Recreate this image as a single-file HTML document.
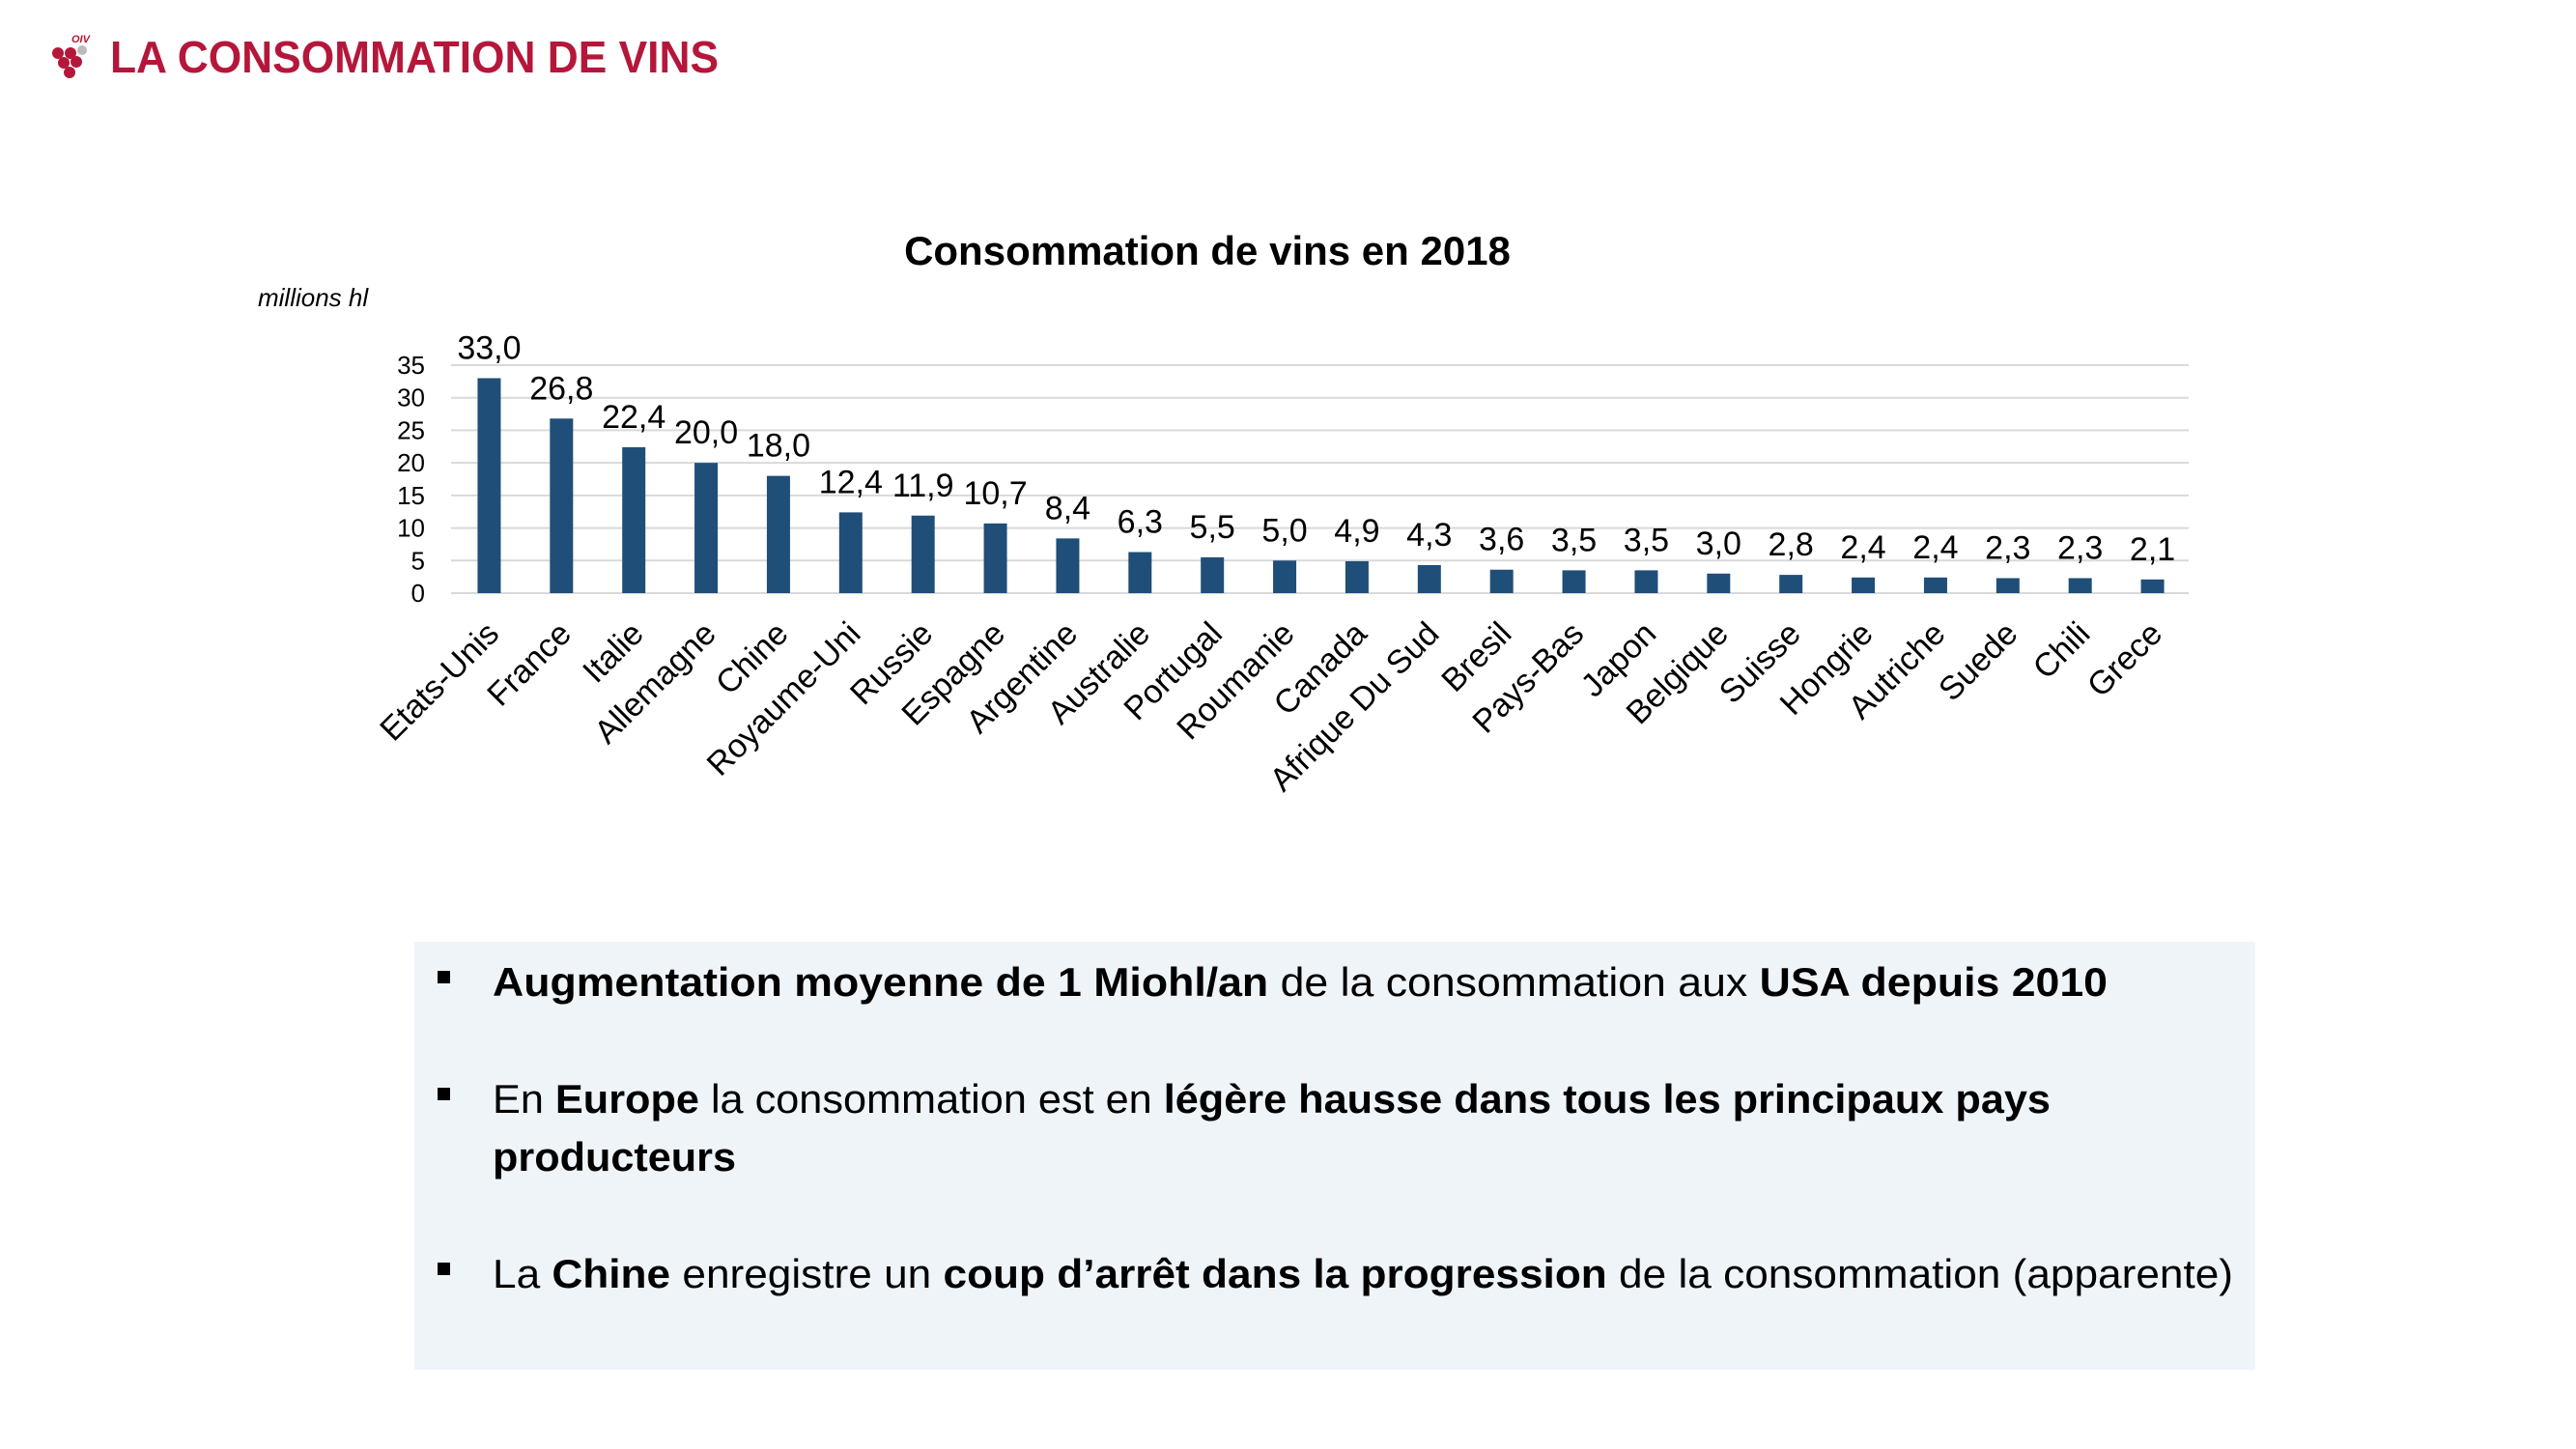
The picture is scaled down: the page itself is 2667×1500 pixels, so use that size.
<!DOCTYPE html>
<html><head><meta charset="utf-8"><style>
html,body{margin:0;padding:0;background:#fff;}
svg{display:block;font-family:"Liberation Sans",sans-serif;}
</style></head><body>
<svg id="s" width="2667" height="1500" viewBox="0 0 2667 1500">
  <g fill="#b5173a">
    <text x="74" y="44" font-size="11" font-style="italic" font-weight="bold">OIV</text>
    <circle cx="60" cy="55" r="6"/><circle cx="73" cy="55" r="6"/><circle cx="85" cy="52" r="5" fill="#bbb"/>
    <circle cx="66" cy="65" r="6"/><circle cx="79" cy="64" r="6"/><circle cx="72" cy="75" r="6"/>
  </g>
  <text x="114" y="75" font-size="46" font-weight="bold" fill="#b5173a" textLength="630" lengthAdjust="spacingAndGlyphs">LA CONSOMMATION DE VINS</text>
  <text x="1250" y="274" font-size="42" font-weight="bold" text-anchor="middle" fill="#000">Consommation de vins en 2018</text>
  <text x="267" y="317" font-size="26" font-style="italic" fill="#000">millions hl</text>
  <g id="grid"></g><g id="bars"></g><g id="labels"></g>
  <rect x="429" y="975" width="1906" height="443" fill="#eff4f9"/>
  <g font-size="42" fill="#000">
    <rect x="453" y="1005" width="13" height="13" fill="#000"/>
    <text x="510" y="1031" textLength="1672" lengthAdjust="spacingAndGlyphs"><tspan font-weight="bold">Augmentation moyenne de 1 Miohl/an</tspan> de la consommation aux <tspan font-weight="bold">USA depuis 2010</tspan></text>
    <rect x="453" y="1126" width="13" height="13" fill="#000"/>
    <text x="510" y="1152" textLength="1613" lengthAdjust="spacingAndGlyphs">En <tspan font-weight="bold">Europe</tspan> la consommation est en <tspan font-weight="bold">légère hausse dans tous les principaux pays</tspan></text>
    <text x="510" y="1212" font-weight="bold" textLength="252" lengthAdjust="spacingAndGlyphs">producteurs</text>
    <rect x="453" y="1307" width="13" height="13" fill="#000"/>
    <text x="510" y="1333" textLength="1802" lengthAdjust="spacingAndGlyphs">La <tspan font-weight="bold">Chine</tspan> enregistre un <tspan font-weight="bold">coup d’arrêt dans la progression</tspan> de la consommation (apparente)</text>
  </g>
</svg>
<script>
const categories=["Etats-Unis","France","Italie","Allemagne","Chine","Royaume-Uni","Russie","Espagne","Argentine","Australie","Portugal","Roumanie","Canada","Afrique Du Sud","Bresil","Pays-Bas","Japon","Belgique","Suisse","Hongrie","Autriche","Suede","Chili","Grece"];
const values=[33.0,26.8,22.4,20.0,18.0,12.4,11.9,10.7,8.4,6.3,5.5,5.0,4.9,4.3,3.6,3.5,3.5,3.0,2.8,2.4,2.4,2.3,2.3,2.1];
const yTicks=[0,5,10,15,20,25,30,35];
const NS="http://www.w3.org/2000/svg";
const X0=469,X1=2266,Y0=614,Y35=378,YMAX=35;
const step=(X1-X0)/categories.length;
function xc(i){return X0+step*(i+0.5);}
function y(v){return Y0-(Y0-Y35)*v/YMAX;}
function mk(tag,attrs,parent){const e=document.createElementNS(NS,tag);for(const k in attrs)e.setAttribute(k,attrs[k]);parent.appendChild(e);return e;}
const grid=document.getElementById('grid'),bars=document.getElementById('bars'),labels=document.getElementById('labels');
yTicks.forEach(t=>{
  const l=mk('line',{x1:467,x2:X1,y1:y(t),y2:y(t),stroke:'#d9d9d9','stroke-width':2},grid);
  
  
  const tx=mk('text',{x:440,y:y(t)+9,'font-size':26,'text-anchor':'end',fill:'#000'},grid);
  tx.textContent=t;
  
  
});
values.forEach((v,i)=>{
  const cx=xc(i);
  const r=mk('rect',{x:cx-12,y:y(v),width:24,height:Y0-y(v),fill:'#1f4e79'},bars);
  
  
  const vt=mk('text',{x:cx,y:y(v)-20,'font-size':34,'text-anchor':'middle',fill:'#000'},labels);
  vt.textContent=v.toFixed(1).replace('.',',');
  
  
  const ct=mk('text',{x:cx+12,y:658,'font-size':34,'text-anchor':'end',fill:'#000',transform:'rotate(-45 '+(cx+12)+' 658)'},labels);
  ct.textContent=categories[i];
  
  
});
</script>
</body></html>
